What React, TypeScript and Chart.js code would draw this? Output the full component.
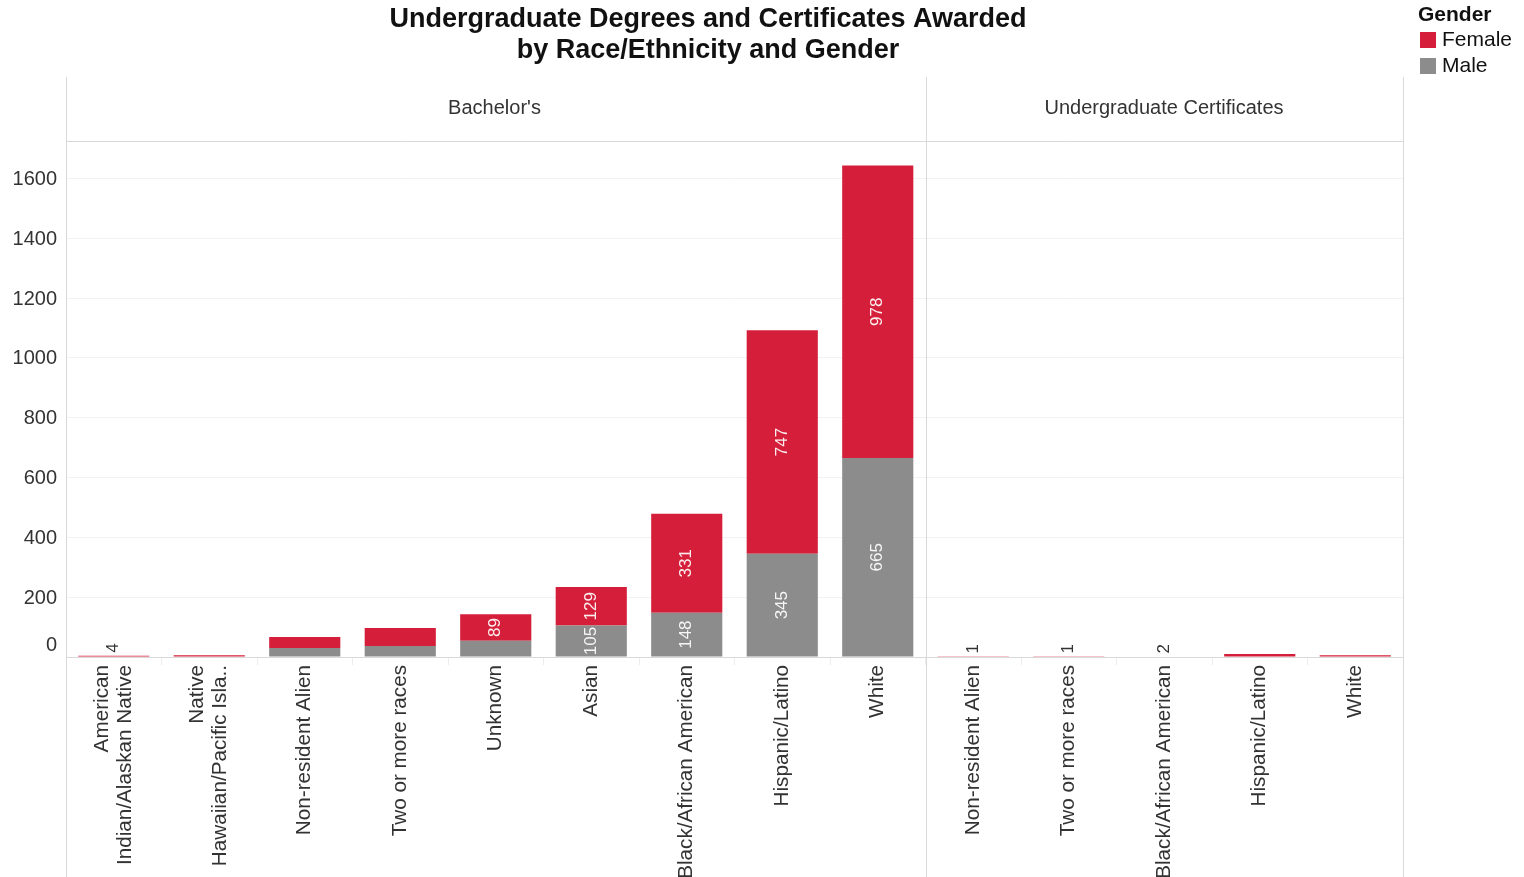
import React, { useEffect, useRef } from "react";
import { Chart, registerables } from "chart.js";

Chart.register(...registerables);

// ---- Data ----
const bachelorCategories: string[][] = [
  ["American", "Indian/Alaskan Native"],
  ["Native", "Hawaiian/Pacific Isla.."],
  ["Non-resident Alien"],
  ["Two or more races"],
  ["Unknown"],
  ["Asian"],
  ["Black/African American"],
  ["Hispanic/Latino"],
  ["White"],
];
const certificateCategories: string[][] = [
  ["Non-resident Alien"],
  ["Two or more races"],
  ["Black/African American"],
  ["Hispanic/Latino"],
  ["White"],
];
const bachelorMale = [0, 0, 30, 37, 54, 105, 148, 345, 665];
const bachelorFemale = [4, 6, 37, 60, 89, 129, 331, 747, 978];
const certificateMale = [0, 0, 0, 0, 0];
const certificateFemale = [1, 1, 2, 10, 6];
// totals labelled above the bar (tiny bars)
const bachelorLabelAbove = [true, false, false, false, false, false, false, false, false];
const certificateLabelAbove = [true, true, true, false, false];
const panelTitles = ["Bachelor's", "Undergraduate Certificates"];
const yTickValues = [0, 200, 400, 600, 800, 1000, 1200, 1400, 1600];
const titleLines = ["Undergraduate Degrees and Certificates Awarded", "by Race/Ethnicity and Gender"];
const legendTitle = "Gender";
const seriesNames = ["Male", "Female"];

const RED = "#D51F3A";
const GRAY = "#8C8C8C";
const LINE = "#d9d9d9";
const TEXT = "#333333";
const FONT = "'Liberation Sans', Arial, sans-serif";

export default function App() {
  const ref = useRef<HTMLCanvasElement | null>(null);

  useEffect(() => {
    document.body.style.margin = "0";
    const canvas = ref.current;
    if (!canvas) return;
    const categories = [...bachelorCategories, ...certificateCategories];
    const male = [...bachelorMale, ...certificateMale];
    const female = [...bachelorFemale, ...certificateFemale];
    const labelAbove = [...bachelorLabelAbove, ...certificateLabelAbove];
    const nB = bachelorCategories.length;

    const overlay = {
      id: "overlay",
      afterDraw(chart: any) {
        const ctx = chart.ctx as CanvasRenderingContext2D;
        const xs = chart.scales.x;
        const ys = chart.scales.y;
        const area = chart.chartArea;
        ctx.save();
        // panel lines
        ctx.strokeStyle = LINE;
        ctx.lineWidth = 1;
        const sep = Math.round((xs.getPixelForValue(nB - 1) + xs.getPixelForValue(nB)) / 2) + 0.5;
        const L = Math.round(area.left) + 0.5;
        const R = Math.round(area.right) + 0.5;
        const vline = (x: number) => {
          ctx.beginPath();
          ctx.moveTo(x, 77);
          ctx.lineTo(x, 877);
          ctx.stroke();
        };
        vline(L);
        vline(sep);
        vline(R);
        ctx.beginPath();
        ctx.moveTo(L, Math.round(area.top) + 0.5);
        ctx.lineTo(R, Math.round(area.top) + 0.5);
        ctx.stroke();

        // panel headers
        ctx.fillStyle = TEXT;
        ctx.font = `20px ${FONT}`;
        ctx.textAlign = "center";
        ctx.textBaseline = "middle";
        ctx.fillText(panelTitles[0], (L + sep) / 2 - 2, 108);
        ctx.fillText(panelTitles[1], (sep + R) / 2 - 1, 108);

        // y tick labels
        ctx.textAlign = "right";
        yTickValues.forEach((v) => {
          let y = ys.getPixelForValue(v) + 1;
          if (v === 0) y -= 13;
          ctx.fillText(String(v), area.left - 9, y);
        });

        // x labels
        ctx.font = `20.7px ${FONT}`;
        ctx.fillStyle = TEXT;
        categories.forEach((lines, i) => {
          const cx = xs.getPixelForValue(i);
          const n = lines.length;
          lines.forEach((line, j) => {
            const lx = cx + (j - (n - 1) / 2) * 23;
            ctx.save();
            ctx.translate(lx, area.bottom + 8);
            ctx.rotate(-Math.PI / 2);
            ctx.textAlign = "right";
            ctx.textBaseline = "middle";
            ctx.fillText(line, 0, 0);
            ctx.restore();
          });
        });

        // value labels inside segments
        ctx.font = `17px ${FONT}`;
        [0, 1].forEach((d) => {
          const meta = chart.getDatasetMeta(d);
          const data = chart.data.datasets[d].data as number[];
          meta.data.forEach((bar: any, i: number) => {
            const v = data[i];
            if (!v) return;
            const h = Math.abs(bar.base - bar.y);
            const text = String(v);
            const tw = ctx.measureText(text).width;
            if (h >= tw + 2) {
              ctx.save();
              ctx.translate(bar.x, (bar.y + bar.base) / 2);
              ctx.rotate(-Math.PI / 2);
              ctx.textAlign = "center";
              ctx.textBaseline = "middle";
              ctx.fillStyle = "rgba(255,255,255,0.92)";
              ctx.fillText(text, 0, 0);
              ctx.restore();
            }
          });
        });

        // labels above tiny bars
        const femMeta = chart.getDatasetMeta(1);
        labelAbove.forEach((show, i) => {
          if (!show) return;
          const bar: any = femMeta.data[i];
          const total = male[i] + female[i];
          ctx.save();
          ctx.translate(bar.x, Math.min(bar.y, bar.base) - 3);
          ctx.rotate(-Math.PI / 2);
          ctx.textAlign = "left";
          ctx.textBaseline = "middle";
          ctx.fillStyle = TEXT;
          ctx.fillText(String(total), 0, 0);
          ctx.restore();
        });

        // title
        ctx.fillStyle = "#111";
        ctx.font = `bold 27px ${FONT}`;
        ctx.textAlign = "center";
        ctx.textBaseline = "middle";
        ctx.fillText(titleLines[0], 708, 20);
        ctx.fillText(titleLines[1], 708, 51);

        // legend
        ctx.textAlign = "left";
        ctx.font = `bold 21px ${FONT}`;
        ctx.fillText(legendTitle, 1418, 15);
        ctx.font = `21px ${FONT}`;
        ctx.fillStyle = RED;
        ctx.fillRect(1420, 32, 16, 16);
        ctx.fillStyle = GRAY;
        ctx.fillRect(1420, 58, 16, 16);
        ctx.fillStyle = "#111";
        ctx.fillText(seriesNames[1], 1442, 40);
        ctx.fillText(seriesNames[0], 1442, 66);
        ctx.restore();
      },
    };

    const chart = new Chart(canvas, {
      type: "bar",
      data: {
        labels: categories.map((c) => c.join(" ")),
        datasets: [
          { label: seriesNames[0], data: male, backgroundColor: GRAY, barPercentage: 0.745, categoryPercentage: 1 },
          { label: seriesNames[1], data: female, backgroundColor: RED, barPercentage: 0.745, categoryPercentage: 1 },
        ],
      },
      options: {
        responsive: false,
        animation: false,
        layout: { padding: { top: 141, right: 121, left: 0, bottom: 0 } },
        plugins: { legend: { display: false }, title: { display: false }, tooltip: { enabled: false } },
        scales: {
          x: {
            stacked: true,
            offset: true,
            ticks: { display: false },
            grid: { display: true, drawOnChartArea: false, drawTicks: true, tickLength: 8, color: "#ededed", offset: true },
            border: { display: true, color: LINE },
            afterFit: (scale: any) => {
              scale.height = 220;
            },
          },
          y: {
            stacked: true,
            min: 0,
            max: 1725,
            ticks: { display: false, stepSize: 200 },
            grid: { color: "#f2f2f2", drawTicks: false },
            border: { display: false },
            afterFit: (scale: any) => {
              scale.width = 66;
            },
          },
        },
      },
      plugins: [overlay],
    } as any);

    return () => chart.destroy();
  }, []);

  return <canvas ref={ref} width={1524} height={877} style={{ display: "block" }} />;
}
